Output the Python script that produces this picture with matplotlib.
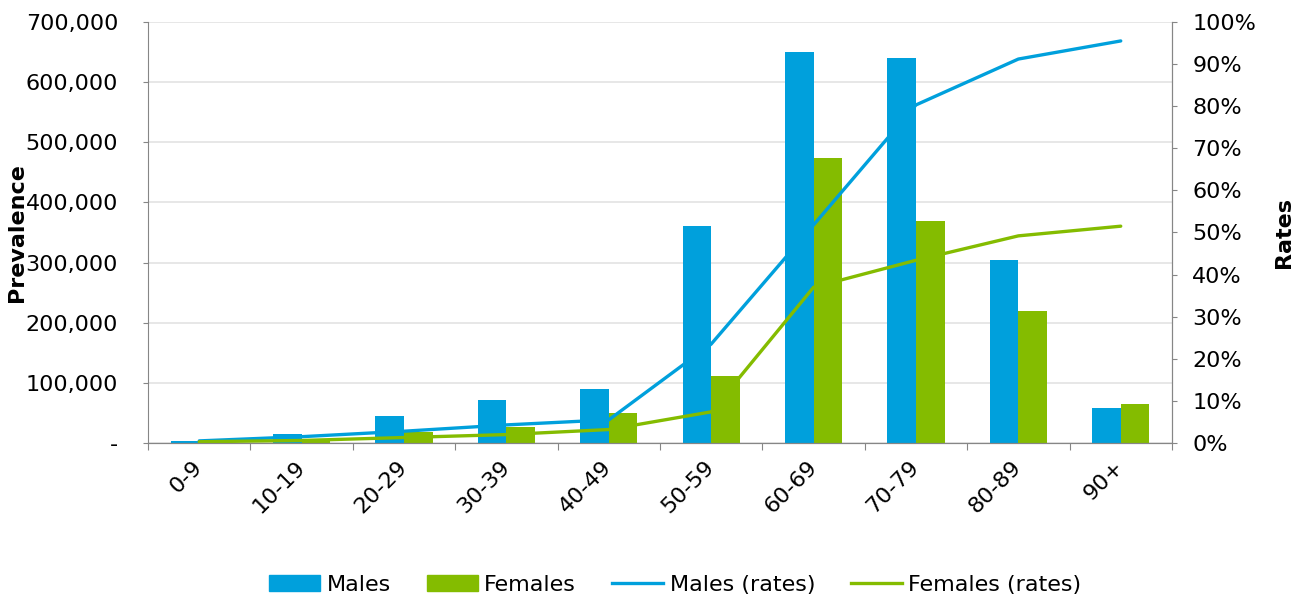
import matplotlib.pyplot as plt
from matplotlib.patches import Patch
from matplotlib.lines import Line2D
from matplotlib.ticker import FuncFormatter, MultipleLocator
from matplotlib.transforms import ScaledTranslation

plt.rcParams['font.family'] = ['DejaVu Sans']

age_groups = ['0-9', '10-19', '20-29', '30-39', '40-49',
              '50-59', '60-69', '70-79', '80-89', '90+']
males = [3000, 14500, 45000, 71500, 90000, 361000, 650000, 640000, 304000, 58000]
females = [4000, 7000, 18000, 27000, 50000, 111000, 474000, 369000, 219000, 65000]
males_rate = [0.5, 1.5, 2.8, 4.3, 5.5, 23.5, 51.8, 80.3, 91.2, 95.5]
females_rate = [0.3, 0.6, 1.3, 2.0, 3.2, 7.4, 37.0, 43.4, 49.2, 51.5]

blue = '#00A0DC'
green = '#84BC00'
axis_col = '#868686'
fs = 16

fig = plt.figure(figsize=(13.01, 6.01), dpi=100)
ax = fig.add_axes([0.1138, 0.2629, 0.7870, 0.7005])
ax2 = ax.twinx()

x = list(range(len(age_groups)))
w = 0.28
ax.bar([i - w / 2 for i in x], males, width=w, color=blue, zorder=2)
ax.bar([i + w / 2 for i in x], females, width=w, color=green, zorder=2)
ax2.plot(x, males_rate, color=blue, lw=2.4, solid_capstyle='round')
ax2.plot(x, females_rate, color=green, lw=2.4, solid_capstyle='round')

ax.set_xlim(-0.5, 9.5)
ax.set_ylim(0, 700000)
ax2.set_ylim(0, 100)
ax.yaxis.set_major_locator(MultipleLocator(100000))
ax2.yaxis.set_major_locator(MultipleLocator(10))
ax.yaxis.set_major_formatter(FuncFormatter(lambda v, p: '-' if v == 0 else f'{v:,.0f}'))
ax2.yaxis.set_major_formatter(FuncFormatter(lambda v, p: f'{v:.0f}%'))

ax.grid(axis='y', color='#e3e3e3', lw=1.2, zorder=0)
ax.set_axisbelow(True)

# category boundaries as x ticks, labels centred on categories
ax.set_xticks([i - 0.5 for i in range(len(age_groups) + 1)])
ax.set_xticklabels([])
ax.set_xticks(x, minor=True)
ax.set_xticklabels(age_groups, minor=True, rotation=45, ha='right',
                   rotation_mode='anchor', va='center', fontsize=fs)
shift = ScaledTranslation(-7 / 100, 0, fig.dpi_scale_trans)
for lbl in ax.get_xticklabels(minor=True):
    lbl.set_transform(lbl.get_transform() + shift)
ax.tick_params(axis='x', which='minor', length=0, pad=15)
ax.tick_params(axis='x', which='major', length=5, color=axis_col)
ax.tick_params(axis='y', labelsize=fs, length=3.6, color=axis_col, pad=18)
ax2.tick_params(axis='y', labelsize=fs, length=3.6, color=axis_col, pad=11)

for a in (ax, ax2):
    a.spines['top'].set_visible(False)
    for s in ('left', 'right', 'bottom'):
        a.spines[s].set_color(axis_col)
ax2.spines['left'].set_visible(False)

ax.set_ylabel('Prevalence', fontsize=fs, fontweight='bold')
ax.yaxis.set_label_coords(-0.118, 0.5)
ax2.set_ylabel('Rates', fontsize=fs, fontweight='bold')
ax2.yaxis.set_label_coords(1.1, 0.5)

handles = [Patch(color=blue), Patch(color=green),
           Line2D([], [], color=blue, lw=2.4), Line2D([], [], color=green, lw=2.4)]
labels = ['Males', 'Females', 'Males (rates)', 'Females (rates)']
fig.legend(handles, labels, loc='center', bbox_to_anchor=(0.519, 0.027), ncol=4,
           frameon=False, fontsize=16, handlelength=2.3, handletextpad=0.3,
           columnspacing=1.6)

fig.savefig('out.png', dpi=100)
